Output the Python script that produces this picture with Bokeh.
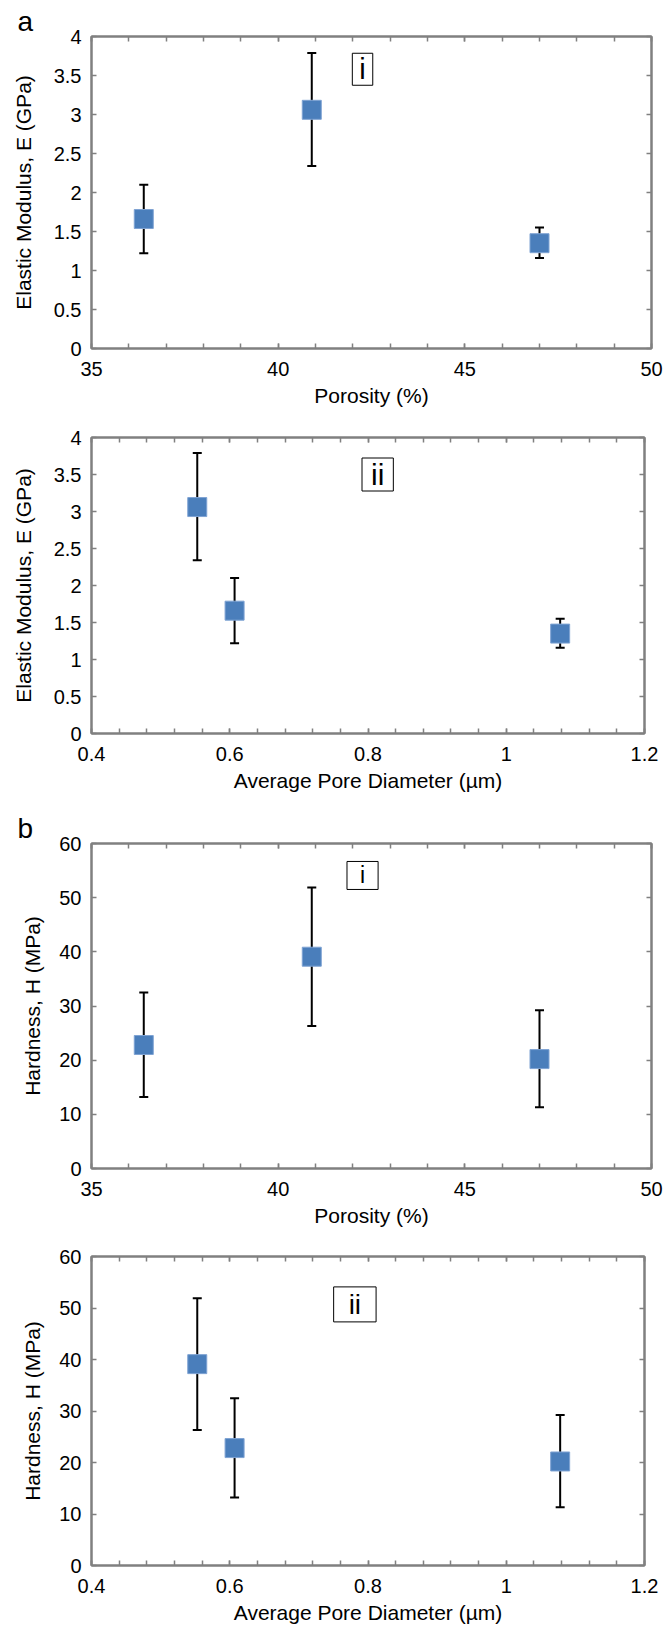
from bokeh.plotting import figure
from bokeh.models import (Range1d, SingleIntervalTicker, LinearAxis, NumeralTickFormatter,
                          CustomJSTickFormatter, Whisker, TeeHead, ColumnDataSource, Label, Title)
from bokeh.layouts import column
from bokeh.embed import file_html
from bokeh.resources import INLINE

# ---- data ----
porosity = [36.4, 40.9, 47.0]            # %
pore_diameter = [0.607, 0.553, 1.078]    # um
E_mean = [1.66, 3.06, 1.35]              # GPa
E_low = [1.22, 2.34, 1.16]
E_high = [2.10, 3.79, 1.55]
H_mean = [22.8, 39.1, 20.2]              # MPa
H_low = [13.2, 26.3, 11.3]
H_high = [32.5, 51.9, 29.2]

FONT = "Liberation Sans"
GRAY = "#808080"
BLUE = "#4A7EBB"
EPS = 1e-9


def style_axis(ax, ticker, formatter, label=None):
    ax.ticker = ticker
    ax.formatter = formatter
    ax.axis_line_color = GRAY
    ax.axis_line_width = 2
    ax.major_tick_line_color = GRAY
    ax.major_tick_line_width = 1.5
    ax.major_tick_in = 5
    ax.major_tick_out = 0
    ax.minor_tick_line_color = GRAY
    ax.minor_tick_line_width = 1.5
    ax.minor_tick_in = 5
    ax.minor_tick_out = 0
    ax.major_label_text_font = FONT
    ax.major_label_text_font_size = "20px"
    ax.major_label_text_color = "black"
    if label is not None:
        ax.axis_label = label
        ax.axis_label_text_font = FONT
        ax.axis_label_text_font_size = "21px"
        ax.axis_label_text_font_style = "normal"
        ax.axis_label_text_color = "black"


def panel(x, y, lo, hi, xr, yr, xint, yint, xlabel, ylabel, fw, fh, top, bottom, right,
          inset, ix, iy, isize, ipad, xstand=13, xlabstand=5, ylabstand=16, letter=None):
    p = figure(output_backend="svg", toolbar_location=None, frame_width=fw, frame_height=fh,
               x_range=Range1d(xr[0], xr[1] + EPS), y_range=Range1d(yr[0], yr[1] + EPS),
               min_border_left=91, min_border_right=right, min_border_top=top,
               min_border_bottom=bottom, x_axis_type=None, y_axis_type=None, title=None)
    p.xgrid.visible = False
    p.ygrid.visible = False
    p.outline_line_color = GRAY
    p.outline_line_width = 2
    p.background_fill_color = "white"
    p.border_fill_color = "white"

    fmt = NumeralTickFormatter(format="0.[0]")
    blank = CustomJSTickFormatter(code="return ''")

    xb = LinearAxis()
    style_axis(xb, SingleIntervalTicker(interval=xint, num_minor_ticks=5), fmt, xlabel)
    xb.major_label_standoff = xstand
    xb.axis_label_standoff = xlabstand
    p.add_layout(xb, "below")

    yl = LinearAxis()
    style_axis(yl, SingleIntervalTicker(interval=yint, num_minor_ticks=0), fmt, ylabel)
    yl.major_label_standoff = 10
    yl.axis_label_standoff = ylabstand
    p.add_layout(yl, "left")

    xt = LinearAxis()
    style_axis(xt, SingleIntervalTicker(interval=xint, num_minor_ticks=5), blank)
    xt.major_label_text_font_size = "1px"
    xt.major_label_standoff = 0
    p.add_layout(xt, "above")

    if letter:
        p.add_layout(Title(text=letter, align="left", offset=-74, standoff=0,
                           text_font=FONT, text_font_size="28px", text_font_style="normal",
                           text_color="black"), "above")

    yr_ax = LinearAxis()
    style_axis(yr_ax, SingleIntervalTicker(interval=yint, num_minor_ticks=0), blank)
    yr_ax.major_label_text_font_size = "1px"
    yr_ax.major_label_standoff = 0
    p.add_layout(yr_ax, "right")

    src = ColumnDataSource(dict(x=x, y=y, lo=lo, hi=hi))
    w = Whisker(source=src, base="x", lower="lo", upper="hi", dimension="height",
                line_color="black", line_width=2,
                upper_head=TeeHead(size=9, line_color="black", line_width=2),
                lower_head=TeeHead(size=9, line_color="black", line_width=2))
    p.add_layout(w)
    p.scatter("x", "y", source=src, marker="square", size=19,
              fill_color=BLUE, line_color="#7FA3D3", line_width=1)

    p.add_layout(Label(x=ix, y=iy, text=inset, text_font=FONT, text_font_size=isize,
                       text_align="center", text_baseline="middle", text_color="black",
                       border_line_color="black", border_line_width=1,
                       background_fill_color="white", padding=ipad))
    return p


p1 = panel(porosity, E_mean, E_low, E_high, (35, 50), (0, 4), 5, 0.5,
           "Porosity (%)", "Elastic Modulus, E (GPa)", 560, 312, 36, 62, 13,
           "i", 42.26, 3.58, "29px", dict(left=7, right=7, top=0, bottom=0),
           letter="a")
p2 = panel(pore_diameter, E_mean, E_low, E_high, (0.4, 1.2), (0, 4), 0.2, 0.5,
           "Average Pore Diameter (\u00b5m)", "Elastic Modulus, E (GPa)", 553, 296, 27, 77, 20,
           "ii", 0.814, 3.5, "30px", dict(left=9, right=9, top=0, bottom=0))
p3 = panel(porosity, H_mean, H_low, H_high, (35, 50), (0, 60), 5, 10,
           "Porosity (%)", "Hardness, H (MPa)", 560, 325, 33, 67, 13,
           "i", 42.26, 54.1, "23px", dict(left=13, right=13, top=1, bottom=1),
           ylabstand=12, letter="b")
p4 = panel(pore_diameter, H_mean, H_low, H_high, (0.4, 1.2), (0, 60), 0.2, 10,
           "Average Pore Diameter (\u00b5m)", "Hardness, H (MPa)", 553, 309, 21, 58, 20,
           "ii", 0.781, 50.7, "28px", dict(left=15, right=15, top=2, bottom=2),
           ylabstand=12)

layout = column(p1, p2, p3, p4, spacing=0)
open("out.html", "w").write(file_html(layout, INLINE))
